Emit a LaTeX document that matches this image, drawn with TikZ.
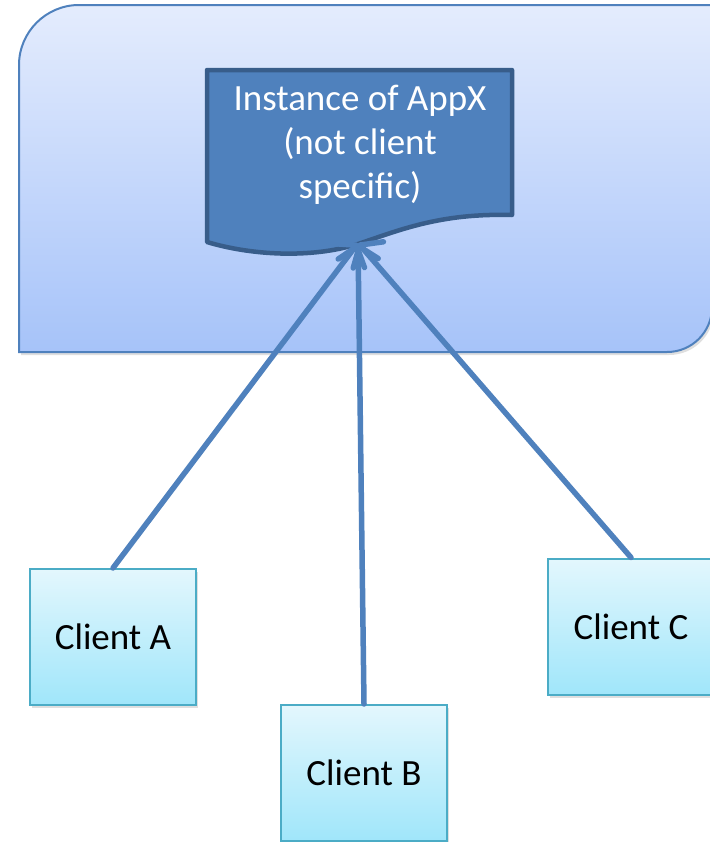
\documentclass[tikz,border=0pt]{standalone}
\usepackage{fontspec}
\setmainfont{Carlito}
\usetikzlibrary{arrows.meta,shadows}
\definecolor{cblue}{RGB}{79,129,189}
\definecolor{cdark}{RGB}{56,93,138}
\definecolor{contTop}{RGB}{228,236,253}
\definecolor{contBot}{RGB}{166,195,249}
\definecolor{cliTop}{RGB}{227,247,253}
\definecolor{cliBot}{RGB}{160,230,250}
\definecolor{cliBorder}{RGB}{75,172,198}
\tikzset{
  container/.style={draw=cblue, line width=2bp, top color=contTop, bottom color=contBot,
    drop shadow={shadow xshift=2bp, shadow yshift=-3bp, opacity=0.25}},
  docshape/.style={draw=cdark, line width=4.5bp, fill=cblue, line join=round},
  doctext/.style={text=white, align=center, font=\fontsize{37bp}{44bp}\selectfont, inner sep=0pt},
  client/.style={draw=cliBorder, line width=2bp, top color=cliTop, bottom color=cliBot,
    minimum width=166bp, minimum height=136bp, inner sep=0pt,
    font=\fontsize{37bp}{44bp}\selectfont, text=black,
    drop shadow={shadow xshift=2bp, shadow yshift=-3bp, opacity=0.25}},
  conn/.style={draw=cblue, line width=5.5bp, line cap=round,
    -{Straight Barb[length=13bp,width=40bp,round]}}
}
\begin{document}
\begin{tikzpicture}[x=1bp,y=-1bp]
\useasboundingbox (0,0) rectangle (710,842);
% container
\path[container] (19,352) -- (19,65) .. controls (19,32) and (46,5) .. (79,5) -- (712,5)
  -- (712,307) .. controls (712,332) and (692,352) .. (667,352) -- cycle;
% document shape
\path[docshape] (207,70) -- (512,70) -- (512,215)
  .. controls (440,213) and (400,230) .. (358,244)
  .. controls (310,259) and (250,255) .. (207,242) -- cycle;
\node[doctext] (doc) at (360,145) {Instance of AppX\\(not client\\specific)};
\coordinate (tip) at (358,243);
% clients
\node[client] (ca) at (113,637) {Client A};
\node[client] (cb) at (364,773) {Client B};
\node[client] (cc) at (631,626.5) {Client C};
% connectors
\draw[conn] (ca.north) -- (tip);
\draw[conn] (cb.north) -- (tip);
\draw[conn] (cc.north) -- (tip);
\end{tikzpicture}
\end{document}
